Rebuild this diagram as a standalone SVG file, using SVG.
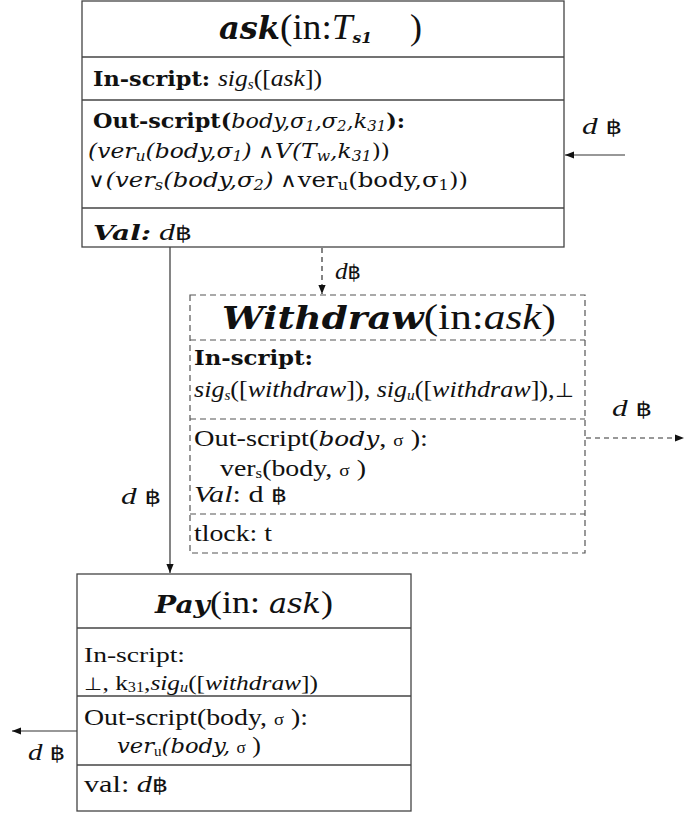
<svg xmlns="http://www.w3.org/2000/svg" width="685" height="817" viewBox="0 0 685 817">
  <style>
    text { font-family: "Liberation Serif", "DejaVu Serif", serif; fill: #111; font-size: 24px; }
    .c { font-family: "DejaVu Serif", serif; font-size: 21px; }
    .title { font-size: 36px; }
    .title .c { font-size: 31px; }
    .b { font-weight: bold; }
    .i { font-style: italic; }
    .bi { font-weight: bold; font-style: italic; }
    .sub { font-size: 14px; }
    .baht { font-style: normal; font-weight: normal; font-family: "DejaVu Sans", sans-serif; font-size: 20px; }
    .op { font-style: normal; font-weight: 200; font-family: "DejaVu Sans", sans-serif; font-size: 20px; }
    .box { fill: #fff; stroke: #444; stroke-width: 1.3; }
    .dbox { fill: #fff; stroke: #555; stroke-width: 1.2; stroke-dasharray: 6 4; }
    .rule { stroke: #444; stroke-width: 1.3; }
    .drule { stroke: #555; stroke-width: 1.2; stroke-dasharray: 6 4; }
    .wire { stroke: #333; stroke-width: 1.2; fill: none; }
    .dwire { stroke: #333; stroke-width: 1.2; fill: none; stroke-dasharray: 5 4; }
  </style>
  <defs>
    <marker id="head" viewBox="0 0 10 10" refX="10" refY="5" markerWidth="9" markerHeight="9" markerUnits="userSpaceOnUse" orient="auto">
      <path d="M0,1 L10,5 L0,9 Z" fill="#111"/>
    </marker>
  </defs>

  <rect width="685" height="817" fill="#fff"/>

  <!-- connectors -->
  <g id="connectors">
    <line class="wire" x1="625" y1="155" x2="565" y2="155" marker-end="url(#head)"/>
    <text x="582" y="134" textLength="40" lengthAdjust="spacingAndGlyphs"><tspan class="i">d</tspan>  <tspan class="baht">฿</tspan></text>

    <line class="wire" x1="170" y1="247" x2="170" y2="573" marker-end="url(#head)"/>
    <text x="121" y="504" textLength="40" lengthAdjust="spacingAndGlyphs"><tspan class="i">d</tspan>  <tspan class="baht">฿</tspan></text>

    <line class="dwire" x1="322" y1="248" x2="322" y2="294" marker-end="url(#head)"/>
    <text x="335" y="279" textLength="26" lengthAdjust="spacingAndGlyphs"><tspan class="i">d</tspan><tspan class="baht">฿</tspan></text>

    <line class="dwire" x1="586" y1="438" x2="684" y2="438" marker-end="url(#head)"/>
    <text x="612" y="416" textLength="40" lengthAdjust="spacingAndGlyphs"><tspan class="i">d</tspan>  <tspan class="baht">฿</tspan></text>

    <line class="wire" x1="77" y1="731" x2="12" y2="731" marker-end="url(#head)"/>
    <text x="28" y="760" textLength="37" lengthAdjust="spacingAndGlyphs"><tspan class="i">d</tspan>  <tspan class="baht">฿</tspan></text>
  </g>

  <!-- ask transaction -->
  <g id="ask">
    <rect class="box" x="82" y="1" width="482" height="246"/>
    <line class="rule" x1="82" y1="57" x2="564" y2="57"/>
    <line class="rule" x1="82" y1="100" x2="564" y2="100"/>
    <line class="rule" x1="82" y1="208" x2="564" y2="208"/>
    <text class="title" x="219" y="39" textLength="153" lengthAdjust="spacingAndGlyphs"><tspan class="c bi">ask</tspan>(in:<tspan class="i">T</tspan><tspan class="c bi" style="font-size:15px" dy="4">s1</tspan></text>
    <text class="title" x="410" y="39">)</text>
    <text x="93" y="86" textLength="229" lengthAdjust="spacingAndGlyphs"><tspan class="c b">In-script: </tspan><tspan class="i">sig</tspan><tspan class="i sub" dy="3">s</tspan><tspan dy="-3">([</tspan><tspan class="i">ask</tspan>])</text>
    <text x="93" y="128" textLength="312" lengthAdjust="spacingAndGlyphs"><tspan class="c b">Out-script(</tspan><tspan class="c i">body,σ</tspan><tspan class="c i sub" dy="3">1</tspan><tspan class="c i" dy="-3">,σ</tspan><tspan class="c i sub" dy="3">2</tspan><tspan class="c i" dy="-3">,k</tspan><tspan class="c i sub" dy="3">31</tspan><tspan class="c b" dy="-3">):</tspan></text>
    <text x="88" y="158" textLength="302" lengthAdjust="spacingAndGlyphs"><tspan class="c i">(ver</tspan><tspan class="c i sub" dy="3">u</tspan><tspan class="c i" dy="-3">(body,σ</tspan><tspan class="c i sub" dy="3">1</tspan><tspan class="c i" dy="-3">)</tspan> <tspan class="op">∧</tspan><tspan class="c i">V(T</tspan><tspan class="c i sub" dy="3">w</tspan><tspan class="c i" dy="-3">,k</tspan><tspan class="c i sub" dy="3">31</tspan><tspan class="c" dy="-3">))</tspan></text>
    <text x="88" y="187" textLength="380" lengthAdjust="spacingAndGlyphs"><tspan class="op">∨</tspan><tspan class="c i">(ver</tspan><tspan class="c i sub" dy="3">s</tspan><tspan class="c i" dy="-3">(body,σ</tspan><tspan class="c i sub" dy="3">2</tspan><tspan class="c i" dy="-3">)</tspan> <tspan class="op">∧</tspan><tspan class="c">ver</tspan><tspan class="c sub" dy="3">u</tspan><tspan class="c" dy="-3">(body,σ</tspan><tspan class="c sub" dy="3">1</tspan><tspan class="c" dy="-3">))</tspan></text>
    <text x="93" y="240" textLength="99" lengthAdjust="spacingAndGlyphs"><tspan class="c bi">Val:</tspan>  <tspan class="i">d</tspan><tspan class="baht">฿</tspan></text>
  </g>

  <!-- Withdraw transaction -->
  <g id="withdraw">
    <rect class="dbox" x="190" y="295" width="395" height="258"/>
    <line class="drule" x1="190" y1="340" x2="585" y2="340"/>
    <line class="drule" x1="190" y1="419" x2="585" y2="419"/>
    <line class="drule" x1="190" y1="514" x2="585" y2="514"/>
    <text class="title" x="222" y="329" textLength="334" lengthAdjust="spacingAndGlyphs"><tspan class="c bi">Withdraw</tspan>(in:<tspan class="i">ask</tspan>)</text>
    <text x="194" y="365" class="c b" textLength="119" lengthAdjust="spacingAndGlyphs">In-script:</text>
    <text x="194" y="397" textLength="379" lengthAdjust="spacingAndGlyphs"><tspan class="i">sig</tspan><tspan class="i sub" dy="3">s</tspan><tspan dy="-3">([</tspan><tspan class="i">withdraw</tspan>]),  <tspan class="i">sig</tspan><tspan class="i sub" dy="3">u</tspan><tspan dy="-3">([</tspan><tspan class="i">withdraw</tspan>]),<tspan class="op">⊥</tspan></text>
    <text x="194" y="446" textLength="234" lengthAdjust="spacingAndGlyphs">Out-script(<tspan class="c i">body</tspan>, <tspan style="font-size:16px">σ</tspan> ):</text>
    <text x="220" y="476" style="font-size:23px" textLength="146" lengthAdjust="spacingAndGlyphs">ver<tspan class="sub" dy="2">s</tspan><tspan dy="-2">(body,</tspan> <tspan style="font-size:16px">σ</tspan> )</text>
    <text x="194" y="502" textLength="93" lengthAdjust="spacingAndGlyphs"><tspan class="i">Val</tspan>: d  <tspan class="baht">฿</tspan></text>
    <text x="194" y="541" textLength="78" lengthAdjust="spacingAndGlyphs">tlock: t</text>
  </g>

  <!-- Pay transaction -->
  <g id="pay">
    <rect class="box" x="77" y="574" width="334" height="237"/>
    <line class="rule" x1="77" y1="628" x2="411" y2="628"/>
    <line class="rule" x1="77" y1="696" x2="411" y2="696"/>
    <line class="rule" x1="77" y1="765" x2="411" y2="765"/>
    <text class="title" x="155" y="613" style="font-size:32px" textLength="178" lengthAdjust="spacingAndGlyphs"><tspan class="c bi" style="font-size:25px">Pay</tspan>(in: <tspan class="c i" style="font-size:27px">ask</tspan>)</text>
    <text x="84" y="662" style="font-size:22px" textLength="101" lengthAdjust="spacingAndGlyphs">In-script:</text>
    <text x="84" y="690" style="font-size:22px" textLength="234" lengthAdjust="spacingAndGlyphs"><tspan class="op" style="font-size:18px">⊥</tspan>, k<tspan class="sub" dy="2">31</tspan><tspan dy="-2">,</tspan><tspan class="i">sig</tspan><tspan class="i sub" dy="2">u</tspan><tspan dy="-2">([</tspan><tspan class="i">withdraw</tspan>])</text>
    <text x="84" y="725" textLength="224" lengthAdjust="spacingAndGlyphs">Out-script(body, <tspan style="font-size:16px">σ</tspan> ):</text>
    <text x="117" y="753" textLength="144" lengthAdjust="spacingAndGlyphs"><tspan class="c i">ver</tspan><tspan class="sub" dy="3">u</tspan><tspan class="c i" dy="-3">(body,</tspan> <tspan style="font-size:16px">σ</tspan> )</text>
    <text x="84" y="792" textLength="84" lengthAdjust="spacingAndGlyphs">val:  <tspan class="i">d</tspan><tspan class="baht">฿</tspan></text>
  </g>
</svg>
